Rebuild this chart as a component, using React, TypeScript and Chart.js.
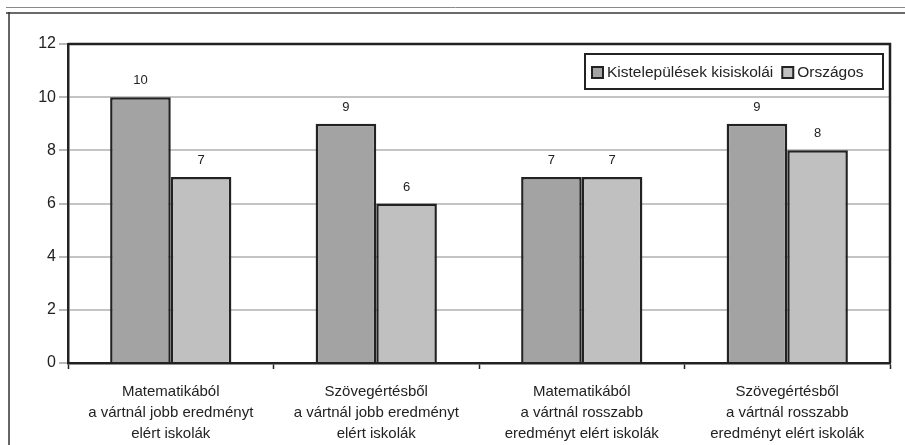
import React, { useEffect, useRef } from "react";
import { Chart, registerables } from "chart.js";

Chart.register(...registerables);

const categories: string[][] = [
  ["Matematikából", "a vártnál jobb eredményt", "elért iskolák"],
  ["Szövegértésből", "a vártnál jobb eredményt", "elért iskolák"],
  ["Matematikából", "a vártnál rosszabb", "eredményt elért iskolák"],
  ["Szövegértésből", "a vártnál rosszabb", "eredményt elért iskolák"],
];
const seriesNames = ["Kistelepülések kisiskolái", "Országos"];
const smallSchools = [10, 9, 7, 9];
const national = [7, 6, 7, 8];
const yMin = 0;
const yMax = 12;
const yStep = 2;

const FONT = "'Liberation Sans', Arial, sans-serif";
const DARK = "#222222";
const COLORS = ["#a3a3a3", "#c0c0c0"];

const framePlugin = {
  id: "frame",
  beforeDraw(chart: any) {
    const ctx = chart.ctx;
    ctx.save();
    ctx.fillStyle = "#ffffff";
    ctx.fillRect(0, 0, chart.width, chart.height);
    ctx.strokeStyle = "#8a8a8a";
    ctx.lineWidth = 1;
    ctx.beginPath();
    ctx.moveTo(6, 7.5);
    ctx.lineTo(chart.width, 7.5);
    ctx.stroke();
    ctx.strokeStyle = "#6a6a6a";
    ctx.lineWidth = 2;
    ctx.beginPath();
    ctx.moveTo(6, 13);
    ctx.lineTo(chart.width, 13);
    ctx.stroke();
    ctx.strokeStyle = "#333333";
    ctx.lineWidth = 1.5;
    ctx.beginPath();
    ctx.moveTo(9, 12);
    ctx.lineTo(9, chart.height);
    ctx.stroke();
    ctx.restore();
  },
  afterDraw(chart: any) {
    const ctx = chart.ctx;
    const a = chart.chartArea;
    ctx.save();
    ctx.strokeStyle = DARK;
    ctx.lineWidth = 2.5;
    ctx.beginPath();
    ctx.moveTo(a.left, a.top);
    ctx.lineTo(a.right, a.top);
    ctx.lineTo(a.right, a.bottom);
    ctx.stroke();
    ctx.restore();
  },
};

const labelPlugin = {
  id: "valueLabels",
  afterDatasetsDraw(chart: any) {
    const ctx = chart.ctx;
    ctx.save();
    ctx.font = `13px ${FONT}`;
    ctx.fillStyle = "#222222";
    ctx.textAlign = "center";
    ctx.textBaseline = "alphabetic";
    chart.data.datasets.forEach((ds: any, i: number) => {
      const meta = chart.getDatasetMeta(i);
      meta.data.forEach((bar: any, j: number) => {
        ctx.fillText(String(ds.data[j]), bar.x, bar.y - 13);
      });
    });
    ctx.restore();
  },
};

const legendPlugin = {
  id: "boxLegend",
  afterDraw(chart: any) {
    const ctx = chart.ctx;
    const boxL = 585;
    const boxT = 54;
    const boxR = 883;
    const boxB = 89;
    ctx.save();
    ctx.fillStyle = "#ffffff";
    ctx.fillRect(boxL, boxT, boxR - boxL, boxB - boxT);
    ctx.strokeStyle = DARK;
    ctx.lineWidth = 2;
    ctx.strokeRect(boxL, boxT, boxR - boxL, boxB - boxT);
    ctx.font = `15.5px ${FONT}`;
    ctx.textBaseline = "middle";
    ctx.textAlign = "left";
    let x = 592;
    const cy = (boxT + boxB) / 2 + 1;
    chart.data.datasets.forEach((ds: any) => {
      ctx.fillStyle = ds.backgroundColor;
      ctx.fillRect(x, cy - 5.5, 11, 11);
      ctx.strokeStyle = DARK;
      ctx.lineWidth = 2;
      ctx.strokeRect(x, cy - 5.5, 11, 11);
      ctx.fillStyle = "#222222";
      ctx.fillText(ds.label, x + 15, cy);
      x += 15 + ctx.measureText(ds.label).width + 9;
    });
    ctx.restore();
  },
};

export default function App() {
  const ref = useRef<HTMLCanvasElement | null>(null);
  useEffect(() => {
    if (!ref.current) return;
    const chart = new Chart(ref.current, {
      type: "bar",
      data: {
        labels: categories,
        datasets: [
          {
            label: seriesNames[0],
            data: smallSchools,
            backgroundColor: COLORS[0],
            borderColor: DARK,
            borderWidth: 2.5,
            categoryPercentage: 0.59,
            barPercentage: 1,
          },
          {
            label: seriesNames[1],
            data: national,
            backgroundColor: COLORS[1],
            borderColor: DARK,
            borderWidth: 2.5,
            categoryPercentage: 0.59,
            barPercentage: 1,
          },
        ],
      },
      options: {
        animation: false,
        responsive: false,
        devicePixelRatio: 1,
        layout: { padding: { left: 0, top: 44, right: 15, bottom: 0 } },
        plugins: {
          legend: { display: false },
          tooltip: { enabled: false },
        },
        scales: {
          x: {
            offset: true,
            grid: {
              offset: true,
              drawOnChartArea: false,
              drawTicks: true,
              tickLength: 6,
              tickColor: DARK,
              tickWidth: 1.5,
            },
            border: { color: DARK, width: 2.5 },
            ticks: {
              color: "#222222",
              padding: 12,
              maxRotation: 0,
              autoSkip: false,
              font: { family: FONT, size: 15, lineHeight: "21px" },
            },
            afterFit(scale: any) {
              scale.height = 445 - 363;
            },
          },
          y: {
            min: yMin,
            max: yMax,
            grid: {
              color: "#c4c4c4",
              lineWidth: 2,
              tickLength: 9,
              tickColor: "#a0a0a0",
              tickWidth: 1.5,
            },
            border: { color: DARK, width: 2.5 },
            ticks: {
              stepSize: yStep,
              color: "#222222",
              padding: 3,
              font: { family: FONT, size: 16 },
            },
            afterFit(scale: any) {
              scale.width = 68;
            },
          },
        },
      },
      plugins: [framePlugin, labelPlugin, legendPlugin],
    });
    return () => chart.destroy();
  }, []);
  return (
    <div style={{ position: "fixed", left: 0, top: 0, width: 905, height: 445 }}>
      <canvas ref={ref} width={905} height={445} style={{ display: "block" }} />
    </div>
  );
}
